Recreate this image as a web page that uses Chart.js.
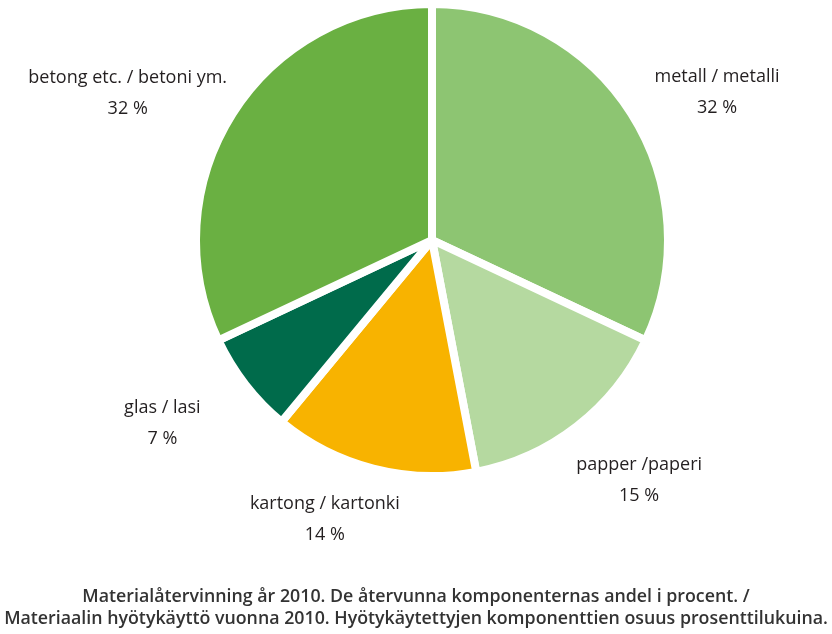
<!DOCTYPE html>
<html>
<head>
<meta charset="utf-8">
<script src="https://cdn.jsdelivr.net/npm/chart.js@4.4.1/dist/chart.umd.min.js"></script>
<style>
html,body{margin:0;padding:0;background:#fff;}
#wrap{width:832px;height:634px;position:relative;}
</style>
</head>
<body>
<div id="wrap"><canvas id="c" width="832" height="634"></canvas></div>
<script>
// Data
const categories = ["metall / metalli", "papper /paperi", "kartong / kartonki", "glas / lasi", "betong etc. / betoni ym."];
const shares = [32, 15, 14, 7, 32];
const valueLabels = ["32 %", "15 %", "14 %", "7 %", "32 %"];
const sliceColors = ["#8dc572", "#b5d9a0", "#f8b300", "#006b4b", "#6ab042"];
const captionLines = [
  "Materialåtervinning år 2010. De återvunna komponenternas andel i procent. /",
  "Materiaalin hyötykäyttö vuonna 2010. Hyötykäytettyjen komponenttien osuus prosenttilukuina."
];

// label placement (polar, relative to the pie): radius in px, angle nudge in degrees
const labelRadius = [321, 317, 299, 326, 338];
const labelAngleNudge = [5, -3, 6.6, 3.6, -6.6];

const labelPlugin = {
  id: 'sliceLabels',
  afterDraw(chart) {
    const ctx = chart.ctx;
    const meta = chart.getDatasetMeta(0);
    ctx.save();
    ctx.fillStyle = '#231f20';
    ctx.textAlign = 'center';
    ctx.textBaseline = 'middle';
    ctx.font = '18px "Open Sans"';
    meta.data.forEach((arc, i) => {
      const mid = (arc.startAngle + arc.endAngle) / 2 + labelAngleNudge[i] * Math.PI / 180;
      const x = arc.x + Math.cos(mid) * labelRadius[i];
      const y = arc.y + Math.sin(mid) * labelRadius[i];
      ctx.fillText(categories[i], x, y - 15);
      ctx.fillText(valueLabels[i], x, y + 16);
    });
    // caption, sized so the longer line spans the page width like the original
    ctx.fillStyle = '#333333';
    let size = 16;
    ctx.font = '600 ' + size + 'px "Open Sans"';
    const w = ctx.measureText(captionLines[1]).width;
    size = size * 824 / w;
    ctx.font = '600 ' + size.toFixed(2) + 'px "Open Sans"';
    ctx.fillText(captionLines[0], chart.width / 2, 597);
    ctx.fillText(captionLines[1], chart.width / 2, 619);
    ctx.restore();
  }
};

new Chart(document.getElementById('c'), {
  type: 'pie',
  data: {
    labels: categories,
    datasets: [{
      data: shares,
      backgroundColor: sliceColors,
      borderColor: '#ffffff',
      borderWidth: 8,
      borderJoinStyle: 'bevel'
    }]
  },
  options: {
    responsive: false,
    animation: false,
    layout: { padding: { top: 0, bottom: 154, left: 192, right: 160 } },
    plugins: {
      legend: { display: false },
      tooltip: { enabled: false },
      title: { display: false }
    }
  },
  plugins: [labelPlugin]
});
</script>
</body>
</html>
